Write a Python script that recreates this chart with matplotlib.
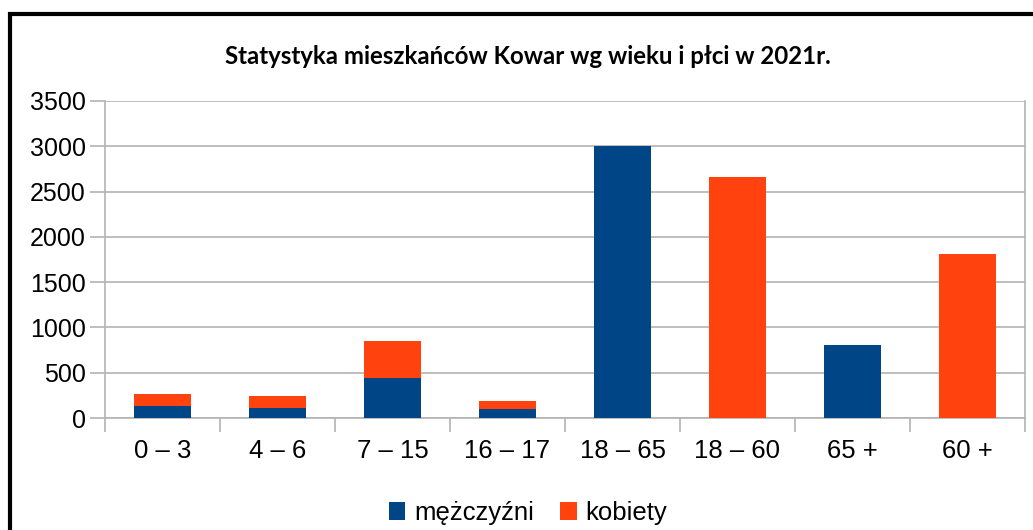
import matplotlib.pyplot as plt
from matplotlib.patches import Rectangle
import numpy as np

# Data
categories = ["0 – 3", "4 – 6", "7 – 15", "16 – 17", "18 – 65", "18 – 60", "65 +", "60 +"]
men = [130, 108, 438, 96, 3005, 0, 802, 0]
women = [131, 131, 408, 88, 0, 2660, 0, 1812]
series_names = ["mężczyźni", "kobiety"]
colors = ["#004586", "#ff420e"]
yticks = [0, 500, 1000, 1500, 2000, 2500, 3000, 3500]

W, H = 1033, 530
fig = plt.figure(figsize=(W / 100, H / 100), dpi=100, facecolor="white")
ax = fig.add_axes([105 / W, (H - 418) / H, (1025 - 105) / W, (418 - 101) / H])

x = np.arange(len(categories))
ax.bar(x, men, width=0.5, color=colors[0], label=series_names[0], zorder=3)
ax.bar(x, women, width=0.5, bottom=men, color=colors[1], label=series_names[1], zorder=3)

ax.set_xlim(-0.5, len(categories) - 0.5)
ax.set_ylim(0, 3500)
ax.set_yticks(yticks)
ax.set_yticklabels([str(v) for v in yticks], fontsize=18, family="Liberation Sans")
ax.grid(axis="y", color="#b3b3b3", linewidth=1.2, zorder=0)

# category labels centred, tick marks on category boundaries
ax.set_xticks(x)
ax.set_xticklabels(categories, fontsize=18.5, family="Liberation Sans")
ax.tick_params(axis="x", length=0, pad=15)
ax.set_xticks(np.arange(len(categories) + 1) - 0.5, minor=True)
ax.tick_params(axis="x", which="minor", length=10, width=1.2, color="#b3b3b3")
ax.tick_params(axis="y", length=11, width=1.2, color="#b3b3b3", pad=3)

for spine in ax.spines.values():
    spine.set_color("#b3b3b3")
    spine.set_linewidth(1.2)
ax.spines["top"].set_visible(False)

fig.text(528 / W, 1 - 57 / H, "Statystyka mieszkańców Kowar wg wieku i płci w 2021r.",
         ha="center", va="center", fontsize=17.3, fontweight="bold",
         family=["Lato", "DejaVu Sans"])

leg = fig.legend(loc="center", bbox_to_anchor=(528 / W, 1 - 513 / H), ncol=2,
                 frameon=False, prop={"family": "Liberation Sans", "size": 18.5},
                 handlelength=0.65, handleheight=0.65, handletextpad=0.35,
                 columnspacing=1.0)

# outer frame
fig.add_artist(Rectangle((10 / W, -0.1), 1.2, 1 - 14 / H + 0.1, transform=fig.transFigure,
                         fill=False, edgecolor="black", linewidth=3))

fig.savefig("out.png", dpi=100, facecolor="white")
